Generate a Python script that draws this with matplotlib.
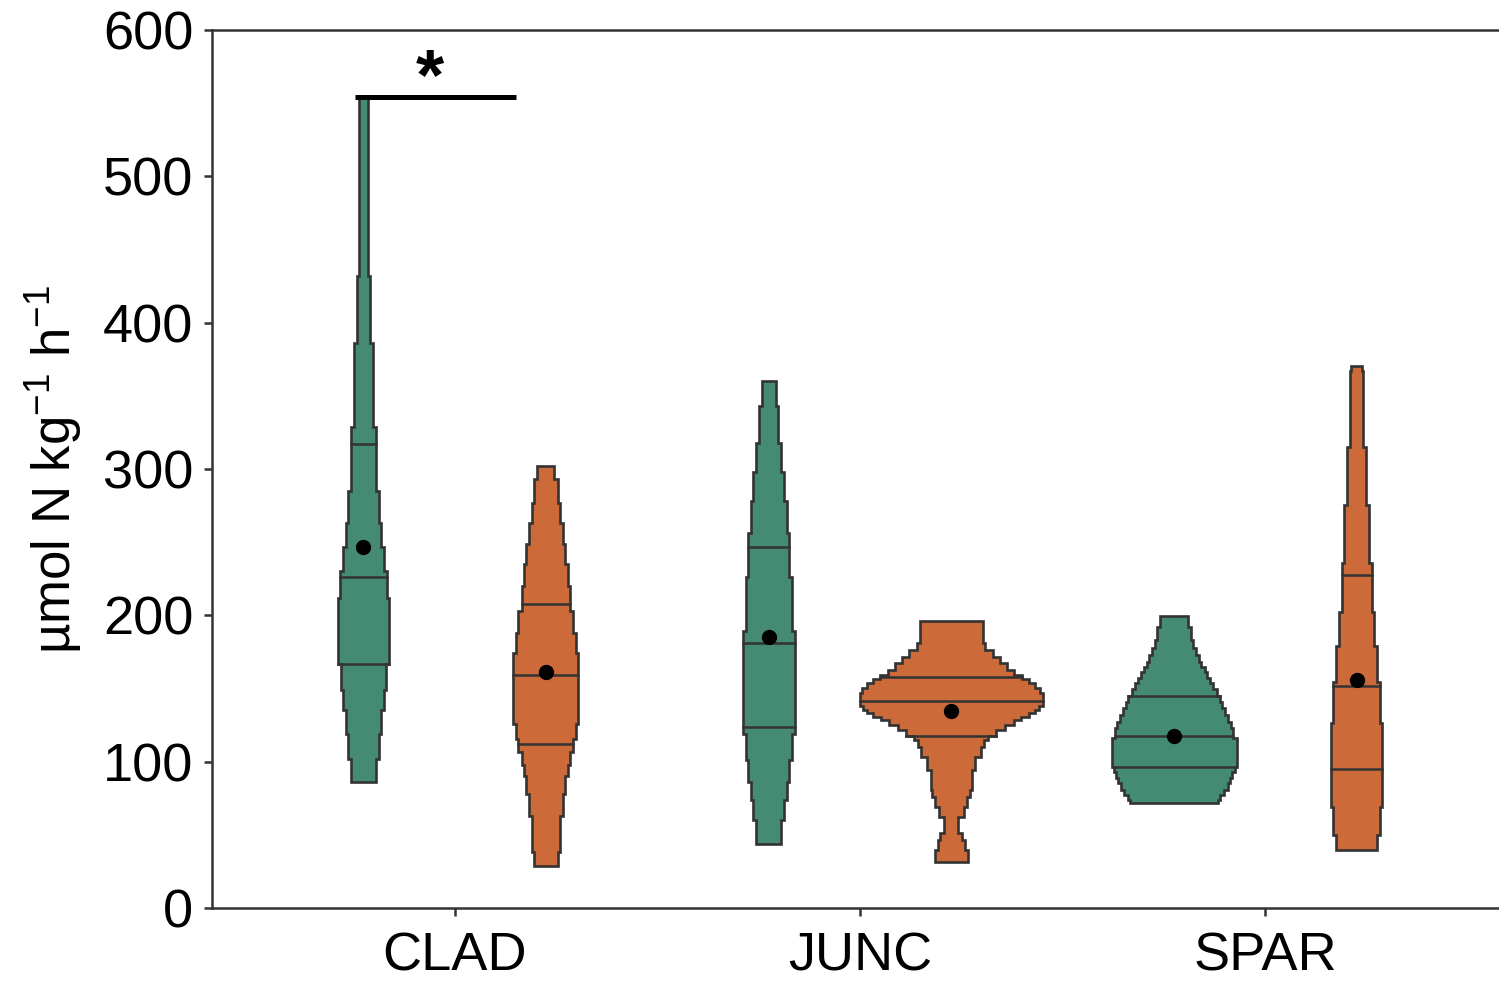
import numpy as np
import matplotlib
matplotlib.use('Agg')
import matplotlib.pyplot as plt

plt.rcParams['font.family'] = ['Liberation Sans', 'DejaVu Sans']
plt.rcParams['mathtext.default'] = 'regular'

sites = ['CLAD', 'JUNC', 'SPAR']

# violin outlines: step edges (umol N kg-1 h-1, top to bottom)
# and half-widths of each step (thousandths of a category)
clad_a_edges = [554, 432, 386, 329, 285, 263, 247, 230, 212, 167, 149, 135, 119, 102, 86]
clad_a_width = [12, 16, 23, 30, 38, 44, 51, 57, 64, 56, 50, 43, 38, 30]
clad_b_edges = [302, 293, 277, 263, 249, 235, 220, 203, 188, 174, 126, 115.5, 106.6,
                98, 90, 78, 63, 38, 29]
clad_b_width = [21, 30, 35, 41, 48, 54, 60, 68, 74, 80, 74, 68, 60, 54, 48, 41, 35, 30]

junc_a_edges = [360, 343, 318, 298, 278, 256, 226, 189, 119, 101, 86, 74, 60, 44]
junc_a_width = [17, 23, 31, 38, 44, 51, 57, 64, 57, 51, 44, 38, 31]
junc_b_edges = [196.1, 180.9, 176.3, 171.7, 167.2, 162.7, 159.2, 156.5, 153.8, 150.3,
                146.9, 138.0, 135.3, 133.1, 130.7, 128.5, 125.1, 121.6, 117.7, 114.8,
                110.2, 103.4, 94.3, 80.6, 76.0, 69.2, 62.3, 51.2, 46.5, 39.6, 31.6]
junc_b_width = [78, 84, 103, 121, 138, 156, 175, 193, 207, 220, 226, 217, 207, 193, 173,
                154, 132, 111, 91, 81, 74, 59, 51, 47, 40, 31, 17, 27, 33, 41]

spar_a_edges = [199.7, 192.2, 183.1, 177.5, 172.9, 168.3, 164.9, 161.5, 157.0, 153.6,
                149.5, 145.1, 141.0, 136.5, 131.9, 127.3, 122.8, 116.2, 96.6, 93.2,
                88.7, 85.3, 80.6, 77.2, 73.8, 71.5]
spar_a_width = [34, 41, 47, 54, 61, 67, 75, 81, 89, 96, 105, 113, 119, 125, 134, 140,
                146, 154, 149, 144, 138, 132, 123, 114, 109]
spar_b_edges = [370.6, 366.7, 315.3, 275.4, 235.5, 202.4, 179.0, 154.6, 126.2, 69.2, 49.9, 39.6]
spar_b_width = [14, 17, 24, 31, 37, 43, 51, 57, 62, 57, 51]

# 75th, 50th, 25th percentiles and means
quart_a = [[317, 226, 167], [246.5, 181, 124], [145, 117.7, 96.5]]
quart_b = [[208, 159, 112], [157.6, 141.4, 117.7], [227.3, 151.7, 94.7]]
mean_a = [247, 185.5, 117.5]
mean_b = [161, 134.8, 155.8]

edges_a = [clad_a_edges, junc_a_edges, spar_a_edges]
width_a = [clad_a_width, junc_a_width, spar_a_width]
edges_b = [clad_b_edges, junc_b_edges, spar_b_edges]
width_b = [clad_b_width, junc_b_width, spar_b_width]

green = '#458B73'
orange = '#CC6A3A'
dark = '#333333'


def draw_violin(ax, c, edges, width, quarts, mean, color):
    hw = np.array(width) / 1000.0
    xs, ys = [], []
    for i in range(len(hw)):
        xs += [c - hw[i], c - hw[i]]
        ys += [edges[i], edges[i + 1]]
    for i in reversed(range(len(hw))):
        xs += [c + hw[i], c + hw[i]]
        ys += [edges[i + 1], edges[i]]
    ax.fill(xs, ys, facecolor=color, edgecolor=dark, lw=1.9, joinstyle='miter', zorder=2)
    for q in quarts:
        i = 0
        while i < len(hw) - 1 and edges[i + 1] > q:
            i += 1
        ax.plot([c - hw[i], c + hw[i]], [q, q], color=dark, lw=1.8, zorder=3)
    ax.plot(c, mean, 'o', color='black', ms=10, zorder=4)


fig = plt.figure(figsize=(14.99, 9.81), dpi=100)
ax = fig.add_axes([211.5 / 1499, 73 / 981, 1297 / 1499, 878 / 981])

dodge = 0.225
for k in range(3):
    x = k + 1
    draw_violin(ax, x - dodge, edges_a[k], width_a[k], quart_a[k], mean_a[k], green)
    draw_violin(ax, x + dodge, edges_b[k], width_b[k], quart_b[k], mean_b[k], orange)

# significance marker for CLAD
ax.plot([1 - 0.247, 1 + 0.151], [554, 554], color='black', lw=3.6,
        solid_capstyle='butt', zorder=5)
ax.text(1 - 0.062, 566, '*', fontsize=52, fontweight='bold', ha='center', va='center')

ax.set_xlim(0.4, 3.6)
ax.set_ylim(0, 600)
ax.set_xticks([1, 2, 3])
ax.set_xticklabels(sites)
ax.set_yticks(range(0, 601, 100))
ax.tick_params(axis='both', labelsize=39, length=6, width=1.8, color=dark,
               labelcolor='black')
ax.tick_params(axis='x', pad=11)
ax.tick_params(axis='y', pad=7)
for s in ['left', 'bottom', 'top']:
    ax.spines[s].set_color(dark)
    ax.spines[s].set_linewidth(1.8)
ax.spines['right'].set_visible(False)
ax.set_ylabel('µmol N kg$^{-1}$ h$^{-1}$', fontsize=38, labelpad=14)

fig.savefig('out.png', dpi=100)
